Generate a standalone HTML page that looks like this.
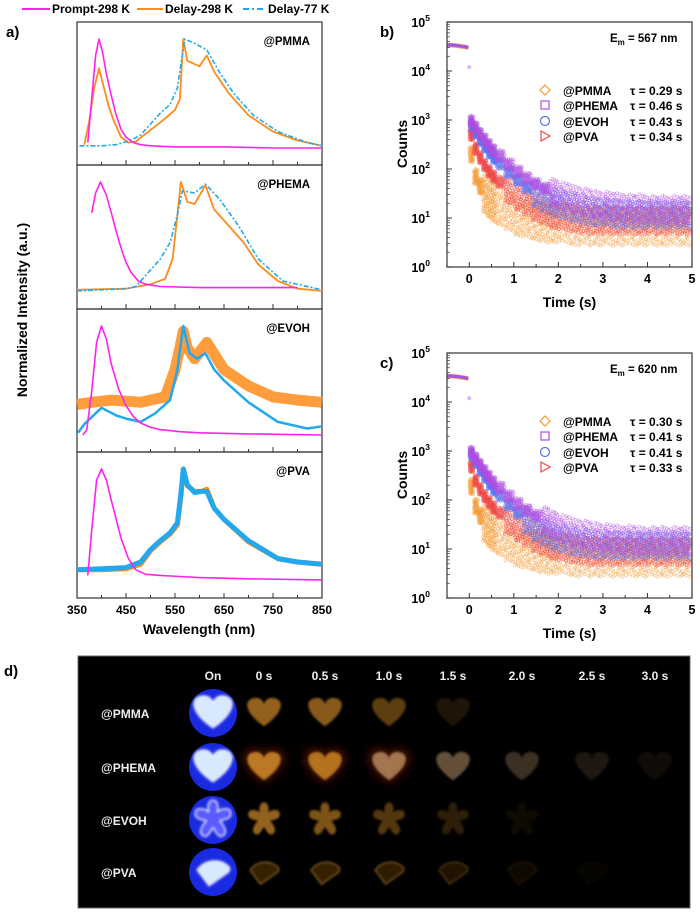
<!DOCTYPE html>
<html><head><meta charset="utf-8"><style>
html,body{margin:0;padding:0;background:#fff;}
svg text{font-family:"Liberation Sans",Arial,sans-serif;font-weight:bold;}
</style></head><body>
<svg id="fig" width="700" height="913" viewBox="0 0 700 913" xmlns="http://www.w3.org/2000/svg">
<defs><filter id="blur" x="-30%" y="-30%" width="160%" height="160%"><feGaussianBlur stdDeviation="1.2"/></filter>
<filter id="glow" x="-50%" y="-50%" width="200%" height="200%"><feGaussianBlur stdDeviation="5"/></filter></defs>
<g id="legendA">
  <line x1="22" y1="9" x2="50" y2="9" stroke="#ff22ee" stroke-width="2"/>
  <text x="52" y="13" font-size="12">Prompt-298 K</text>
  <line x1="137" y1="9" x2="163" y2="9" stroke="#ff8c1a" stroke-width="2"/>
  <text x="165" y="13" font-size="12">Delay-298 K</text>
  <line x1="243" y1="9" x2="266" y2="9" stroke="#22a8ee" stroke-width="2" stroke-dasharray="6,3,2,3"/>
  <text x="268" y="13" font-size="12">Delay-77 K</text>
</g>
<text x="6" y="37" font-size="15">a)</text>
<text x="380" y="37" font-size="15">b)</text>
<text x="380" y="368" font-size="15">c)</text>
<text x="4" y="676" font-size="15">d)</text>
<text transform="translate(27,310) rotate(-90)" text-anchor="middle" font-size="14">Normalized Intensity (a.u.)</text>
<text x="199" y="634" text-anchor="middle" font-size="14">Wavelength (nm)</text>
<g id="specA"></g>
<g id="decayB"></g>
<g id="decayC"></g>
<g id="photos"></g>
</svg>
<script>
// ---------- Panel a spectra data ----------
const wavelengthTicks = [350,450,550,650,750,850];
const panelNames = ["@PMMA","@PHEMA","@EVOH","@PVA"];
const pmmaPromptWl = [372,380,388,395,402,410,420,430,440,450,465,480,500,550,650,750,850];
const pmmaPromptV  = [0.05,0.45,0.85,1.0,0.88,0.68,0.48,0.3,0.17,0.1,0.05,0.03,0.02,0.01,0.01,0.0,0.0];
const pmmaDelayWl = [365,375,385,395,405,415,425,440,455,470,490,510,530,550,560,567,575,590,600,615,630,660,700,750,800,850];
const pmmaDelayV  = [0.03,0.25,0.55,0.73,0.55,0.38,0.25,0.1,0.05,0.06,0.13,0.2,0.27,0.35,0.45,1.0,0.8,0.77,0.75,0.85,0.7,0.5,0.3,0.15,0.07,0.02];
const pmma77Wl = [355,400,430,460,480,500,520,540,555,565,570,590,615,640,670,710,760,820,850];
const pmma77V  = [0.02,0.02,0.03,0.07,0.12,0.22,0.32,0.4,0.55,0.85,1.0,0.96,0.9,0.7,0.5,0.3,0.15,0.05,0.02];
const phemaPromptWl = [380,388,398,410,420,430,440,450,460,475,490,520,600,700,800];
const phemaPromptV  = [0.72,0.9,1.0,0.88,0.72,0.55,0.4,0.27,0.18,0.1,0.07,0.05,0.04,0.04,0.04];
const phemaDelayWl = [350,450,500,530,545,555,562,575,590,612,630,660,690,720,760,800,850];
const phemaDelayV  = [0.02,0.03,0.07,0.12,0.3,0.7,1.0,0.82,0.8,0.97,0.75,0.6,0.45,0.25,0.1,0.03,0.01];
const phema77Wl = [350,450,470,500,520,540,555,565,590,612,640,680,720,770,850];
const phema77V  = [0.01,0.03,0.05,0.2,0.3,0.45,0.7,0.92,0.9,0.98,0.85,0.6,0.3,0.1,0.02];
const evohPromptWl = [362,370,380,390,400,410,420,435,450,465,480,500,520,560,600,700,850];
const evohPromptV  = [0.0,0.05,0.4,0.85,1.0,0.88,0.65,0.42,0.27,0.17,0.11,0.07,0.05,0.03,0.02,0.01,0.0];
const evohDelayWl = [350,380,420,480,530,550,560,567,575,590,615,650,700,750,800,850];
const evohDelayV  = [0.28,0.3,0.32,0.3,0.35,0.6,0.8,0.95,0.8,0.7,0.85,0.6,0.45,0.35,0.32,0.3];
const evoh77Wl = [352,365,400,430,450,480,510,540,555,567,580,595,612,630,650,700,760,820,850];
const evoh77V  = [0.02,0.1,0.25,0.18,0.15,0.12,0.2,0.32,0.6,1.0,0.75,0.7,0.75,0.6,0.5,0.3,0.12,0.06,0.08];
const pvaPromptWl = [372,380,390,400,410,420,430,440,455,470,490,520,560,600,700,850];
const pvaPromptV  = [0.05,0.45,0.9,1.0,0.9,0.72,0.55,0.38,0.2,0.1,0.06,0.05,0.04,0.03,0.02,0.01];
const pvaDelayWl = [350,400,450,480,500,520,540,555,562,567,575,590,605,615,630,650,700,760,800,850];
const pvaDelayV  = [0.1,0.1,0.11,0.15,0.27,0.35,0.42,0.5,0.75,1.0,0.85,0.8,0.8,0.82,0.65,0.55,0.35,0.2,0.17,0.15];
const pva77Wl = pvaDelayWl;
const pva77V  = [0.1,0.11,0.12,0.17,0.28,0.36,0.43,0.52,0.78,1.0,0.86,0.79,0.8,0.8,0.65,0.55,0.36,0.2,0.17,0.15];

const NS="http://www.w3.org/2000/svg";
function mk(tag, attrs, parent){const e=document.createElementNS(NS,tag);for(const k in attrs)e.setAttribute(k,attrs[k]);parent.appendChild(e);return e;}
const panelTops=[22,165,309,452], panelBottom=598, ax0=77, ax1=322;
function xa(w){return ax0+(w-350)*(ax1-ax0)/500;}
function ya(p,v){const t=panelTops[p];const b=(p<3?panelTops[p+1]:panelBottom);return t+17+(1-v)*(b-t-34);}
const gA=document.getElementById('specA');
const seriesA=[
 [[pmmaDelayWl,pmmaDelayV,'delay'],[pmma77Wl,pmma77V,'d77'],[pmmaPromptWl,pmmaPromptV,'prompt']],
 [[phemaDelayWl,phemaDelayV,'delay'],[phema77Wl,phema77V,'d77'],[phemaPromptWl,phemaPromptV,'prompt']],
 [[evohDelayWl,evohDelayV,'delay'],[evoh77Wl,evoh77V,'d77'],[evohPromptWl,evohPromptV,'prompt']],
 [[pvaDelayWl,pvaDelayV,'delay'],[pva77Wl,pva77V,'d77'],[pvaPromptWl,pvaPromptV,'prompt']]
];
for(let p=0;p<4;p++){
  const t=panelTops[p], b=(p<3?panelTops[p+1]:panelBottom);
  const r=mk('rect',{x:ax0,y:t,width:ax1-ax0,height:b-t,fill:'none',stroke:'#333','stroke-width':1.2},gA);
  
  
  for(let w=350;w<=850;w+=50){
    const major=(w-350)%100===0;
    const tk=mk('line',{x1:xa(w),x2:xa(w),y1:b,y2:b-(major?5:3),stroke:'#333','stroke-width':1},gA);
    
    
  }
  for(const s of seriesA[p]){
    const [wl,v,kind]=s;
    const pts=wl.map((w,i)=>xa(w).toFixed(1)+','+ya(p,v[i]).toFixed(1)).join(' ');
    let st;
    if(kind==='prompt') st={stroke:'#ff22ee','stroke-width':1.6};
    else if(kind==='delay') st={stroke:'#ff8c1a','stroke-width':(p===2?11:(p===3?5:1.8)),'stroke-opacity':(p===2?0.85:1)};
    else st={stroke:'#22a8ee','stroke-width':(p===3?5:(p===2?2.5:1.6)),'stroke-dasharray':(p>=2?'none':'5,2,2,2')};
    const pl=mk('polyline',Object.assign({points:pts,fill:'none','stroke-linejoin':'round'},st),gA);
    
    
  }
  const lb=mk('text',{x:310,y:t+23,'text-anchor':'end','font-size':11.5},gA);
  lb.textContent=panelNames[p];
  
  
}
for(const w of wavelengthTicks){
  const tl=mk('text',{x:xa(w),y:614,'text-anchor':'middle','font-size':12},gA);
  tl.textContent=w;
  
  
}

// ---------- Decay data ----------
const decayTimes = [0,0.1,0.2,0.3,0.4,0.5,0.6,0.8,1,1.2,1.4,1.6,1.8,2,2.25,2.5,2.75,3,3.25,3.5,3.75,4,4.25,4.5,4.75];
const preTimes = [-0.5,-0.4,-0.3,-0.2,-0.1,-0.02];
const preCounts = [34000,33500,33000,32000,31000,30000];
const timeTicks = [0,1,2,3,4,5];
const decadeTicks = [0,1,2,3,4,5];
const bPMMA  = [200,70,45,32,26,21,18,14,11,10,9,8,8,8,7,7,7,7,7,7,7,7,7,7,7];
const bPHEMA = [950,700,520,400,310,240,190,125,90,65,50,40,33,28,24,21,19,18,17,16,16,15,15,15,15];
const bEVOH  = [800,560,400,290,220,170,130,85,60,42,32,25,21,18,16,14,13,13,12,12,12,12,12,12,12];
const bPVA   = [500,260,170,120,90,70,55,38,28,22,17,14,12,11,10,9,9,9,9,9,9,9,9,9,9];
const cPMMA  = [190,75,48,35,28,23,19,14,11,10,9,8,8,8,7,7,7,7,7,7,7,7,7,7,7];
const cPHEMA = [950,700,520,390,300,230,180,120,85,62,48,38,31,26,22,20,18,17,16,16,15,15,15,15,15];
const cEVOH  = [850,600,420,300,220,165,125,80,55,38,28,22,18,16,14,13,12,12,12,12,12,12,12,12,12];
const cPVA   = [480,250,165,120,90,70,55,38,28,22,17,14,12,11,10,9,9,9,9,9,9,9,9,9,9];
const tauB = ["0.29","0.46","0.43","0.34"];
const tauC = ["0.30","0.41","0.41","0.33"];
const seriesNames = ["@PMMA","@PHEMA","@EVOH","@PVA"];
const seriesColors = ["#f59a30","#b04ee0","#5a70f0","#f04848"];
// deterministic Halton jitter pattern (marker scatter style, not data)
function halton(i,b){let f=1,r=0;while(i>0){f/=b;r+=f*(i%b);i=Math.floor(i/b);}return r;}
const JIT=[];
for(let k=1;k<=40;k++){JIT.push([halton(k,2)-0.5,(halton(k,3)-0.5)*2]);}

function drawDecay(gid, top, data, taus, em){
  const g=document.getElementById(gid);
  const L=447,R=692,T=top,B=top+245;
  const tx=t=>L+(t+0.5)*(R-L)/5.5;
  const ly=c=>T+(5-Math.log10(c))*(B-T)/5;
  for(const si of [0,3,2,1]){
    const vals=data[si];
    for(let i=0;i<decayTimes.length;i++){
      const gap=(i<decayTimes.length-1?decayTimes[i+1]-decayTimes[i]:0.25);
      const amp=vals[i]<40?0.3:0.12;
      for(let q=0;q<JIT.length;q++){
        const j=JIT[(q+i*7+si*13)%JIT.length];
        const jy=JIT[(q+i*11+si*5)%JIT.length][1];
        const t=decayTimes[i]+gap*(j[0]+0.5);
        if(t>4.97)continue;
        const c=vals[i]*Math.pow(10,jy*amp*(si===0?1.4:1));
        const m=mk('circle',{cx:tx(t),cy:ly(c),r:1.4,fill:'none',stroke:seriesColors[si],'stroke-opacity':0.45,'stroke-width':0.9},g);
        
        
      }
    }
    const pre=preTimes.map((t,i)=>tx(t)+','+ly(preCounts[i]*(1+0.03*(si-1.5)))).join(' ');
    const pl=mk('polyline',{points:pre,fill:'none',stroke:seriesColors[si],'stroke-width':2.5,'stroke-opacity':0.8},g);
    
    
  }
  const sp=mk('circle',{cx:tx(0),cy:ly(12000),r:2,fill:'#c080f0','fill-opacity':0.6},g);
  
  
  const fr=mk('rect',{x:L,y:T,width:R-L,height:B-T,fill:'none',stroke:'#444','stroke-width':1.3},g);
  
  
  for(const d of decadeTicks){
    const y=ly(Math.pow(10,d));
    const tk=mk('line',{x1:L,x2:L+5,y1:y,y2:y,stroke:'#333'},g);
    
    
    if(d<5)for(let k=2;k<10;k++){const yy=ly(k*Math.pow(10,d));const mt=mk('line',{x1:L,x2:L+3,y1:yy,y2:yy,stroke:'#333','stroke-width':0.7},g);}
    const tl=mk('text',{x:L-17,y:y+5,'text-anchor':'end','font-size':12.5},g);
    
    
    tl.appendChild(document.createTextNode('10'));
    const sup=mk('tspan',{dy:-6,'font-size':8.5},tl);sup.textContent=d;
  }
  for(let t=-0.5;t<=5.001;t+=0.5){
    const maj=Math.abs(t-Math.round(t))<0.01;
    const tk=mk('line',{x1:tx(t),x2:tx(t),y1:B,y2:B-(maj?5:3),stroke:'#333'},g);
    
    
  }
  for(const t of timeTicks){
    const tl=mk('text',{x:tx(t),y:B+16,'text-anchor':'middle','font-size':12.5},g);
    tl.textContent=t;
    
    
  }
  const xt=mk('text',{x:(L+R)/2,y:B+40,'text-anchor':'middle','font-size':14},g);
  xt.textContent='Time (s)';
  
  
  const yt=mk('text',{transform:'translate(407,'+(T+122)+') rotate(-90)','text-anchor':'middle','font-size':14},g);
  yt.textContent='Counts';
  
  
  const et=mk('text',{x:610,y:T+20,'font-size':11.5},g);
  
  
  et.appendChild(document.createTextNode('E'));
  const sb=mk('tspan',{dy:3,'font-size':8},et);sb.textContent='m';
  const rest=mk('tspan',{dy:-3},et);rest.textContent=' = '+em+' nm';
  const rows=[T+68,T+83,T+99,T+114];
  for(let i=0;i<4;i++){
    const y=rows[i], x=545, c=seriesColors[i];
    let m;
    if(i===0)m=mk('polygon',{points:`${x},${y-5} ${x+5},${y} ${x},${y+5} ${x-5},${y}`,fill:'none',stroke:c,'stroke-width':1.2},g);
    else if(i===1)m=mk('rect',{x:x-4,y:y-4,width:8,height:8,fill:'none',stroke:c,'stroke-width':1.2},g);
    else if(i===2)m=mk('circle',{cx:x,cy:y,r:4.5,fill:'none',stroke:c,'stroke-width':1.2},g);
    else m=mk('polygon',{points:`${x-4},${y-5} ${x+5},${y} ${x-4},${y+5}`,fill:'none',stroke:c,'stroke-width':1.2},g);
    
    
    const nt=mk('text',{x:563,y:y+5,'font-size':12},g);nt.textContent=seriesNames[i];
    
    
    const tt=mk('text',{x:630,y:y+5,'font-size':12},g);tt.textContent='τ = '+taus[i]+' s';
    
    
  }
}
drawDecay('decayB',22,[bPMMA,bPHEMA,bEVOH,bPVA],tauB,'567');
drawDecay('decayC',353,[cPMMA,cPHEMA,cEVOH,cPVA],tauC,'620');

// ---------- Panel d photos ----------
const colLabels=["On","0 s","0.5 s","1.0 s","1.5 s","2.0 s","2.5 s","3.0 s"];
const rowLabels=["@PMMA","@PHEMA","@EVOH","@PVA"];
const pmmaGlow=[0.7,0.65,0.45,0.15,0,0,0];
const phemaGlow=[0.85,0.8,0.7,0.5,0.3,0.15,0.08];
const evohGlow=[0.7,0.6,0.4,0.22,0.08,0,0];
const pvaGlow=[0.5,0.5,0.45,0.3,0.12,0.05,0];
const glows=[pmmaGlow,phemaGlow,evohGlow,pvaGlow];
const gD=document.getElementById('photos');
const bg=mk('rect',{x:78,y:656,width:612,height:252,fill:'#000',stroke:'#666'},gD);


const colX=[213,264,325,389,453,522,592,655], rowY=[713,767,820,872];
colLabels.forEach((c,i)=>{const t=mk('text',{x:colX[i],y:680,'text-anchor':'middle','font-size':12,fill:'#eee'},gD);t.textContent=c;});
rowLabels.forEach((r,i)=>{const t=mk('text',{x:101,y:rowY[i]+5,'font-size':12,fill:'#eee'},gD);t.textContent=r;});
const heart="M0,15 C-22,0 -24,-15 -11,-17 C-4,-18 0,-13 0,-9 C0,-13 4,-18 11,-17 C24,-15 22,0 0,15 Z";
const flower="M0,-20 C6,-20 6,-10 4,-8 C8,-12 18,-14 18,-6 C18,0 8,0 7,1 C10,4 16,12 10,16 C5,19 2,10 0,8 C-2,10 -5,19 -10,16 C-16,12 -10,4 -7,1 C-8,0 -18,0 -18,-6 C-18,-14 -8,-12 -4,-8 C-6,-10 -6,-20 0,-20 Z";
const wedge="M-16,-2 C-8,-14 10,-14 17,-4 L16,0 L-4,14 Z";
const shapes=[heart,heart,flower,wedge];
for(let r=0;r<4;r++){
  const on=mk('ellipse',{cx:colX[0],cy:rowY[r],rx:24,ry:24,fill:'#1a2ae0'},gD);
  
  
  const s=mk('path',{d:shapes[r],transform:`translate(${colX[0]},${rowY[r]})`,fill:(r===2?'#5a5cff':'#d8e8ff'),stroke:'#fff','stroke-width':1,filter:'url(#blur)'},gD);
  
  
  for(let c=0;c<7;c++){
    const a=glows[r][c]; if(a<=0)continue;
    if(r===1&&c<3){
      const h=mk('path',{d:heart,transform:`translate(${colX[c+1]},${rowY[r]}) scale(1.05)`,fill:'#8a2000','fill-opacity':0.6,filter:'url(#glow)'},gD);
      
      
    }
    const col=(r===1&&c>=2)?'#c8a070':(r===3?'#6a4008':'#d08a28');
    const p=mk('path',{d:shapes[r],transform:`translate(${colX[c+1]},${rowY[r]}) scale(0.88)`,fill:col,'fill-opacity':a,stroke:(r===3?'#e0a040':'none'),'stroke-opacity':a,'stroke-width':1.5,filter:'url(#blur)'},gD);
    
    
  }
}
</script>
</body></html>
